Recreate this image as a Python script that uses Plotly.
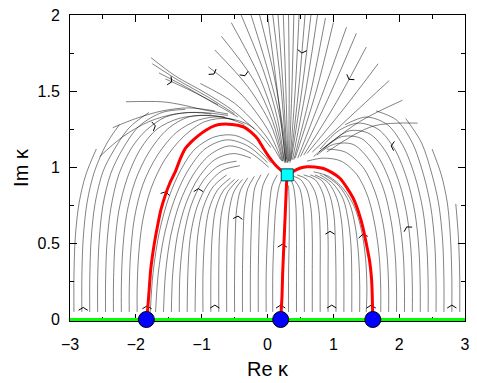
import math
import plotly.graph_objects as go

# ---------------- data ----------------
# critical points on the real axis (blue circles)
crit_x = [-1.84, 0.20, 1.60]
crit_y = [0.0, 0.0, 0.0]
# point where the red curves meet (cyan square)
sq_x = [0.30]
sq_y = [0.95]

# real axis (green)
axis_x = [-3.0, 3.0]
axis_y = [0.0, 0.0]

# red curves
red_left_x = [-1.84, -1.825, -1.80, -1.775, -1.73, -1.675, -1.62, -1.55, -1.48, -1.40, -1.33, -1.25, -1.15, -1.05, -0.93, -0.80,
              -0.70, -0.60, -0.48, -0.35, -0.25, -0.15, -0.07, 0.02, 0.12, 0.22, 0.30]
red_left_y = [0.0, 0.043, 0.18, 0.324, 0.47, 0.604, 0.72, 0.82, 0.90, 0.971, 1.05, 1.122, 1.17, 1.208, 1.245, 1.273,
              1.282, 1.283, 1.277, 1.262, 1.23, 1.186, 1.13, 1.07, 1.015, 0.975, 0.95]
red_mid_x = [0.30, 0.29, 0.27, 0.25, 0.23, 0.22, 0.20]
red_mid_y = [0.95, 0.90, 0.70, 0.50, 0.30, 0.15, 0.0]
red_right_x = [0.30, 0.40, 0.50, 0.60, 0.72, 0.85, 0.98, 1.10, 1.20, 1.30, 1.38, 1.45, 1.50, 1.55, 1.58, 1.59, 1.60]
red_right_y = [0.95, 0.975, 0.995, 1.003, 1.002, 0.992, 0.965, 0.928, 0.87, 0.798, 0.71, 0.604, 0.50, 0.388, 0.27, 0.173, 0.0]

# flow lines, left of the left red curve
flow_left = [
    [(-2.94, 0.05), (-2.94, 0.28), (-2.92, 0.54), (-2.86, 0.77), (-2.76, 0.95), (-2.60, 1.12)],
    [(-2.82, 0.05), (-2.82, 0.27), (-2.80, 0.53), (-2.74, 0.77), (-2.63, 0.97), (-2.45, 1.15), (-2.25, 1.28)],
    [(-2.70, 0.05), (-2.70, 0.26), (-2.68, 0.52), (-2.62, 0.76), (-2.50, 0.97), (-2.35, 1.10), (-2.10, 1.26), (-1.80, 1.36)],
    [(-2.58, 0.05), (-2.58, 0.25), (-2.56, 0.50), (-2.50, 0.75), (-2.38, 0.96), (-2.20, 1.12), (-1.95, 1.27), (-1.60, 1.36), (-1.25, 1.38)],
    [(-2.46, 0.05), (-2.46, 0.24), (-2.44, 0.49), (-2.38, 0.73), (-2.26, 0.95), (-2.06, 1.13), (-1.85, 1.24), (-1.55, 1.33), (-1.20, 1.36), (-0.85, 1.35)],
    [(-2.34, 0.05), (-2.34, 0.22), (-2.32, 0.47), (-2.26, 0.71), (-2.13, 0.93), (-1.93, 1.12), (-1.68, 1.25), (-1.35, 1.32), (-1.00, 1.34), (-0.65, 1.33)],
    [(-2.22, 0.05), (-2.22, 0.22), (-2.20, 0.45), (-2.14, 0.69), (-2.01, 0.91), (-1.80, 1.10), (-1.52, 1.25), (-1.20, 1.33), (-0.85, 1.34), (-0.50, 1.31)],
    [(-2.10, 0.05), (-2.10, 0.20), (-2.08, 0.43), (-2.02, 0.67), (-1.89, 0.89), (-1.67, 1.08), (-1.38, 1.23), (-1.05, 1.31), (-0.70, 1.33), (-0.35, 1.28)],
    [(-1.98, 0.05), (-1.98, 0.20), (-1.96, 0.41), (-1.90, 0.64), (-1.77, 0.86), (-1.56, 1.05), (-1.28, 1.20), (-0.95, 1.30), (-0.60, 1.32), (-0.25, 1.27), (0.05, 1.13)],
]

# flow lines between the left and middle red curves
flow_mid_left = [
    [(-1.78, 0.05), (-1.74, 0.30), (-1.64, 0.58), (-1.50, 0.80), (-1.32, 0.98), (-1.10, 1.12), (-0.80, 1.20), (-0.50, 1.21), (-0.22, 1.15), (0.05, 1.03)],
    [(-1.70, 0.05), (-1.66, 0.30), (-1.57, 0.55), (-1.42, 0.78), (-1.22, 0.97), (-0.95, 1.12), (-0.62, 1.18), (-0.30, 1.14), (0.00, 1.03)],
    [(-1.58, 0.05), (-1.55, 0.30), (-1.47, 0.55), (-1.33, 0.77), (-1.13, 0.95), (-0.88, 1.08), (-0.58, 1.14), (-0.28, 1.10), (0.02, 1.00)],
    [(-1.46, 0.05), (-1.44, 0.30), (-1.37, 0.55), (-1.24, 0.76), (-1.05, 0.93), (-0.80, 1.05), (-0.52, 1.09), (-0.25, 1.06)],
    [(-1.34, 0.05), (-1.33, 0.30), (-1.27, 0.55), (-1.16, 0.75), (-0.98, 0.91), (-0.74, 1.01), (-0.47, 1.04)],
    [(-1.22, 0.05), (-1.21, 0.30), (-1.17, 0.55), (-1.07, 0.74), (-0.90, 0.89), (-0.68, 0.98), (-0.42, 1.01)],
    [(-1.10, 0.05), (-1.09, 0.30), (-1.06, 0.55), (-0.98, 0.73), (-0.83, 0.87), (-0.62, 0.95)],
    [(-0.98, 0.05), (-0.98, 0.30), (-0.95, 0.55), (-0.89, 0.72), (-0.76, 0.85), (-0.56, 0.93)],
    [(-0.86, 0.05), (-0.86, 0.30), (-0.84, 0.55), (-0.79, 0.72), (-0.68, 0.84), (-0.50, 0.92)],
    [(-0.74, 0.05), (-0.74, 0.30), (-0.73, 0.55), (-0.69, 0.72), (-0.60, 0.84), (-0.44, 0.92)],
    [(-0.62, 0.05), (-0.62, 0.30), (-0.61, 0.55), (-0.58, 0.72), (-0.51, 0.84), (-0.38, 0.92)],
    [(-0.50, 0.05), (-0.50, 0.30), (-0.49, 0.55), (-0.47, 0.72), (-0.41, 0.85), (-0.30, 0.93)],
    [(-0.38, 0.05), (-0.38, 0.30), (-0.37, 0.55), (-0.35, 0.73), (-0.30, 0.86), (-0.20, 0.94)],
    [(-0.26, 0.05), (-0.26, 0.30), (-0.25, 0.55), (-0.23, 0.74), (-0.19, 0.87), (-0.10, 0.95)],
    [(-0.14, 0.05), (-0.14, 0.30), (-0.13, 0.55), (-0.11, 0.75), (-0.07, 0.88), (0.02, 0.96)],
    [(-0.02, 0.05), (-0.02, 0.30), (0.00, 0.55), (0.03, 0.75), (0.07, 0.88), (0.15, 0.95)],
    [(0.08, 0.05), (0.08, 0.30), (0.10, 0.55), (0.13, 0.75), (0.18, 0.88), (0.24, 0.94)],
]

# flow lines between the middle and right red curves
flow_mid_right = [
    [(0.32, 0.05), (0.32, 0.30), (0.33, 0.55), (0.33, 0.75), (0.32, 0.88)],
    [(0.44, 0.05), (0.44, 0.30), (0.44, 0.55), (0.43, 0.75), (0.39, 0.88), (0.34, 0.93)],
    [(0.56, 0.05), (0.56, 0.30), (0.56, 0.55), (0.54, 0.74), (0.49, 0.86), (0.40, 0.92)],
    [(0.68, 0.05), (0.68, 0.30), (0.68, 0.55), (0.66, 0.73), (0.60, 0.85), (0.50, 0.92), (0.40, 0.94)],
    [(0.80, 0.05), (0.80, 0.30), (0.80, 0.55), (0.78, 0.72), (0.72, 0.84), (0.60, 0.92), (0.45, 0.95)],
    [(0.92, 0.05), (0.92, 0.30), (0.92, 0.53), (0.90, 0.70), (0.84, 0.83), (0.72, 0.92), (0.55, 0.95)],
    [(1.04, 0.05), (1.04, 0.30), (1.03, 0.52), (1.01, 0.68), (0.95, 0.81), (0.83, 0.91), (0.65, 0.95)],
    [(1.16, 0.05), (1.16, 0.30), (1.15, 0.50), (1.12, 0.66), (1.05, 0.80), (0.92, 0.90), (0.72, 0.95)],
    [(1.28, 0.05), (1.28, 0.28), (1.27, 0.47), (1.23, 0.64), (1.15, 0.79), (1.00, 0.89), (0.80, 0.95)],
    [(1.40, 0.05), (1.40, 0.25), (1.38, 0.44), (1.33, 0.62), (1.24, 0.77), (1.08, 0.88), (0.86, 0.95)],
    [(1.50, 0.05), (1.51, 0.20), (1.49, 0.40), (1.43, 0.58), (1.32, 0.74), (1.15, 0.86), (0.93, 0.94), (0.70, 0.97)],
]

# flow lines right of the right red curve
flow_right = [
    [(1.72, 0.05), (1.72, 0.20), (1.70, 0.40), (1.64, 0.60), (1.53, 0.80), (1.36, 0.95), (1.12, 1.04), (0.85, 1.06), (0.60, 1.04)],
    [(1.84, 0.05), (1.84, 0.20), (1.82, 0.40), (1.76, 0.62), (1.64, 0.83), (1.45, 1.00), (1.18, 1.10), (0.90, 1.12)],
    [(1.96, 0.05), (1.96, 0.20), (1.94, 0.42), (1.88, 0.64), (1.76, 0.86), (1.56, 1.04), (1.30, 1.15), (1.00, 1.15), (0.75, 1.08)],
    [(2.08, 0.05), (2.08, 0.22), (2.06, 0.44), (2.00, 0.66), (1.88, 0.88), (1.68, 1.07), (1.42, 1.19), (1.12, 1.20), (0.85, 1.12)],
    [(2.20, 0.05), (2.20, 0.22), (2.18, 0.45), (2.12, 0.68), (2.00, 0.90), (1.80, 1.10), (1.55, 1.22), (1.25, 1.24), (0.95, 1.16), (0.70, 1.07)],
    [(2.32, 0.05), (2.32, 0.22), (2.30, 0.46), (2.24, 0.70), (2.12, 0.92), (1.93, 1.12), (1.68, 1.25), (1.38, 1.29), (1.08, 1.24), (0.80, 1.12)],
    [(2.44, 0.05), (2.44, 0.24), (2.42, 0.48), (2.36, 0.72), (2.24, 0.94), (2.06, 1.14), (1.82, 1.28), (1.50, 1.33), (1.18, 1.28)],
    [(2.56, 0.05), (2.56, 0.25), (2.54, 0.50), (2.48, 0.74), (2.37, 0.95), (2.20, 1.16), (1.96, 1.31), (1.65, 1.37)],
    [(2.68, 0.05), (2.68, 0.26), (2.66, 0.52), (2.60, 0.76), (2.50, 0.95), (2.34, 1.16), (2.10, 1.32)],
    [(2.80, 0.05), (2.80, 0.27), (2.78, 0.53), (2.73, 0.77), (2.64, 0.95), (2.50, 1.12)],
    [(2.92, 0.05), (2.92, 0.28), (2.90, 0.54), (2.86, 0.76)],
]

# flow lines in the upper half (coming down towards the square)
flow_upper = [
    [(-2.55, 1.07), (-2.20, 1.20), (-1.80, 1.30), (-1.40, 1.35), (-1.00, 1.36), (-0.60, 1.34)],
    [(-2.35, 1.26), (-2.00, 1.32), (-1.60, 1.37), (-1.20, 1.39), (-0.80, 1.37)],
    [(-2.15, 1.43), (-1.60, 1.43), (-1.30, 1.41), (-1.00, 1.38), (-0.60, 1.35)],
    [(-1.77, 1.72), (-1.40, 1.60), (-0.95, 1.49), (-0.55, 1.38), (-0.20, 1.25)],
    [(-1.75, 1.68), (-1.35, 1.57), (-0.90, 1.46), (-0.50, 1.35)],
    [(-1.65, 1.62), (-1.25, 1.53), (-0.85, 1.43), (-0.45, 1.33)],
    [(-1.55, 1.58), (-1.15, 1.50), (-0.75, 1.41)],
    [(-1.02, 1.55), (-0.50, 1.42), (-0.05, 1.22), (0.20, 1.05)],
    [(-0.90, 1.66), (-0.40, 1.48), (0.00, 1.25), (0.22, 1.04)],
    [(-0.80, 1.77), (-0.30, 1.53), (0.05, 1.28), (0.23, 1.04)],
    [(-0.70, 1.86), (-0.22, 1.58), (0.08, 1.30), (0.24, 1.04)],
    [(-0.55, 1.95), (-0.13, 1.60), (0.12, 1.30), (0.25, 1.05)],
    [(-0.40, 2.00), (-0.05, 1.62), (0.15, 1.32), (0.26, 1.03)],
    [(-0.25, 2.00), (0.03, 1.60), (0.20, 1.30), (0.27, 1.04)],
    [(-0.12, 2.00), (0.10, 1.60), (0.25, 1.20), (0.28, 1.03)],
    [(0.00, 2.00), (0.15, 1.50), (0.28, 1.03)],
    [(0.08, 2.00), (0.20, 1.55), (0.29, 1.05)],
    [(0.16, 2.00), (0.24, 1.50), (0.30, 1.03)],
    [(0.24, 2.00), (0.28, 1.50), (0.31, 1.03)],
    [(0.32, 2.00), (0.33, 1.50), (0.32, 1.04)],
    [(0.40, 2.00), (0.37, 1.50), (0.33, 1.04)],
    [(0.48, 2.00), (0.42, 1.50), (0.34, 1.03)],
    [(0.57, 2.00), (0.47, 1.50), (0.35, 1.04)],
    [(0.66, 2.00), (0.52, 1.50), (0.36, 1.05)],
    [(0.76, 2.00), (0.58, 1.50), (0.38, 1.05)],
    [(0.88, 1.98), (0.66, 1.50), (0.40, 1.05)],
    [(1.00, 1.95), (0.74, 1.50), (0.42, 1.06)],
    [(1.20, 1.92), (0.85, 1.50), (0.46, 1.06)],
    [(1.35, 1.88), (0.95, 1.48), (0.50, 1.07)],
    [(1.50, 1.79), (1.05, 1.43), (0.55, 1.08)],
    [(1.68, 1.68), (1.15, 1.38), (0.60, 1.09)],
    [(1.85, 1.57), (1.25, 1.33), (0.68, 1.10)],
    [(2.05, 1.44), (1.40, 1.30), (0.78, 1.10)],
    [(2.28, 1.29), (1.60, 1.27), (0.90, 1.10)],
]

# direction marks on the flow (position, pointing angle in degrees)
arrow_x = [-2.80, -1.83, -0.80, 0.20, 0.975, 1.575, 2.80, -1.55, -1.05, -0.45, 0.225, 0.95, 1.45, 2.125,
           -1.475, -1.725, -0.825, -0.35, 0.525, 1.25, 1.90]
arrow_y = [0.07, 0.08, 0.085, 0.085, 0.085, 0.085, 0.085, 0.83, 0.85, 0.67, 0.485, 0.57, 0.55, 0.60,
           1.565, 1.27, 1.62, 1.61, 1.76, 1.585, 1.14]
arrow_dir = [90, 90, 90, 90, 90, 90, 90, 76, 90, 85, 90, 90, 101, 120,
             -25, 10, -54, -67, -97, -125, 175]

# ---------------- figure ----------------
W, H = 477, 383
ML, MR, MT, MB = 70, 7, 11, 62
X_RANGE = [-3, 3]
Y_RANGE = [-0.0097, 2]
SX = (W - ML - MR) / (X_RANGE[1] - X_RANGE[0])
SY = (H - MT - MB) / (Y_RANGE[1] - Y_RANGE[0])

fig = go.Figure()

sx, sy = [], []
for group in (flow_left, flow_mid_left, flow_mid_right, flow_right, flow_upper):
    for line in group:
        for px, py in line:
            sx.append(px)
            sy.append(py)
        sx.append(None)
        sy.append(None)
fig.add_trace(go.Scatter(x=sx, y=sy, mode="lines",
                         line=dict(color="rgba(0,0,0,0.62)", width=0.8, shape="spline", smoothing=0.9),
                         hoverinfo="skip"))

# chevrons
CH_LEN = 5.5
CH_HALF = 58
cx, cy = [], []
for ax_, ay_, ad in zip(arrow_x, arrow_y, arrow_dir):
    a = math.radians(ad)
    fwd = CH_LEN * math.cos(math.radians(CH_HALF)) / 2
    tx = ax_ + fwd * math.cos(a) / SX
    ty = ay_ + fwd * math.sin(a) / SY
    pts = []
    for s in (-1, 1):
        phi = math.radians(ad + 180 + s * CH_HALF)
        pts.append((tx + CH_LEN * math.cos(phi) / SX, ty + CH_LEN * math.sin(phi) / SY))
    cx += [pts[0][0], tx, pts[1][0], None]
    cy += [pts[0][1], ty, pts[1][1], None]
fig.add_trace(go.Scatter(x=cx, y=cy, mode="lines", line=dict(color="black", width=1), hoverinfo="skip"))

# real axis
fig.add_trace(go.Scatter(x=axis_x, y=axis_y, mode="lines", line=dict(color="#00ff00", width=3), hoverinfo="skip"))

# red curves
for rx, ry in ((red_left_x, red_left_y), (red_mid_x, red_mid_y), (red_right_x, red_right_y)):
    fig.add_trace(go.Scatter(x=rx, y=ry, mode="lines",
                             line=dict(color="#ff0000", width=3, shape="spline", smoothing=0.5),
                             hoverinfo="skip"))

fig.add_trace(go.Scatter(x=crit_x, y=crit_y, mode="markers", cliponaxis=False,
                         marker=dict(size=16, color="#0000ff", line=dict(color="black", width=1))))
fig.add_trace(go.Scatter(x=sq_x, y=sq_y, mode="markers", cliponaxis=False,
                         marker=dict(symbol="square", size=12, color="#00ffff", line=dict(color="#004444", width=1))))

FONT = "Liberation Sans, Arial, Helvetica, sans-serif"
fig.update_layout(
    width=W, height=H, margin=dict(l=ML, r=MR, t=MT, b=MB),
    plot_bgcolor="white", paper_bgcolor="white", showlegend=False,
    font=dict(family=FONT, color="black"),
)
axis_common = dict(
    ticks="inside", ticklen=7, tickwidth=1, tickcolor="black",
    showline=True, linecolor="black", linewidth=1, mirror="ticks",
    showgrid=False, zeroline=False, layer="below traces",
    tickfont=dict(size=16, family=FONT, color="black"),
)
fig.update_xaxes(range=X_RANGE, tick0=0, dtick=1, ticklabelstandoff=9,
                 minor=dict(ticks="inside", ticklen=4, dtick=0.5, tickcolor="black", showgrid=False),
                 title=dict(text="Re κ", font=dict(size=20, family=FONT), standoff=9),
                 **axis_common)
fig.update_yaxes(range=Y_RANGE, tick0=0, dtick=0.5, ticklabelstandoff=6,
                 minor=dict(ticks="inside", ticklen=4, dtick=0.25, tickcolor="black", showgrid=False),
                 title=dict(text="Im κ", font=dict(size=20, family=FONT), standoff=3),
                 **axis_common)

fig.write_html("out.html")
